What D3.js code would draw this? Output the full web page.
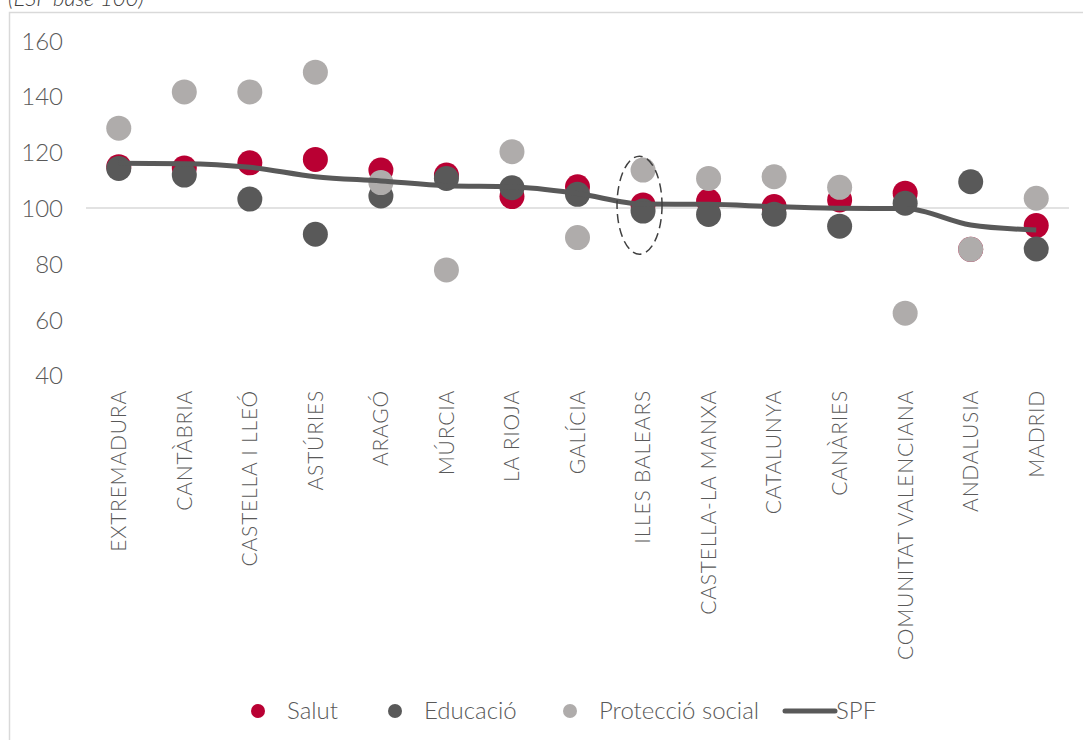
<!DOCTYPE html>
<html>
<head>
<meta charset="utf-8">
<script src="https://cdn.jsdelivr.net/npm/d3@7"></script>
<style>
  body { margin: 0; background: #fff; }
  svg text { font-family: "Lato", "Open Sans", sans-serif; }
</style>
</head>
<body>
<svg id="chart" width="1083" height="740"></svg>
<script>
// regions, ordered as in the picture
var regions = ["EXTREMADURA", "CANTÀBRIA", "CASTELLA I LLEÓ", "ASTÚRIES", "ARAGÓ", "MÚRCIA",
  "LA RIOJA", "GALÍCIA", "ILLES BALEARS", "CASTELLA-LA MANXA", "CATALUNYA", "CANÀRIES",
  "COMUNITAT VALENCIANA", "ANDALUSIA", "MADRID"];

var salut      = [114.8, 114.3, 116.2, 117.4, 113.6, 111.8, 104.1, 107.6, 101.1, 102.5, 100.5, 102.9, 105.3, 85.2, 93.7];
var educacio   = [114.2, 111.8, 103.2, 90.6, 104.3, 110.6, 107.3, 104.9, 98.9, 97.7, 97.8, 93.5, 101.7, 109.4, 85.3];
var proteccio  = [128.6, 141.6, 141.6, 148.7, 109.1, 77.8, 120.2, 89.4, 113.6, 110.6, 111.2, 107.4, 62.3, 85.2, 103.5];
var spf        = [116.0, 115.9, 114.6, 111.2, 109.7, 108.0, 107.6, 105.2, 101.4, 101.3, 100.5, 99.9, 99.8, 93.9, 92.1];

var yTicks = [40, 60, 80, 100, 120, 140, 160];

var COLORS = {
	salut: "#b90033",
	educacio: "#595959",
	proteccio: "#afacab",
	text: "#595959",
	grid: "#d9d9d9",
	border: "#d9d9d9"
};

var svg = d3.select("#chart");

// outer frame
svg.append("path")
	.attr("d", "M9.5 740 L9.5 12.5 L1083 12.5")
	.attr("fill", "none")
	.attr("stroke", COLORS.border)
	.attr("stroke-width", 1.5);

// unit caption, cut by the top edge as in the source
svg.append("text")
	.attr("x", 8)
	.attr("y", 6)
	.attr("font-size", 22)
	.attr("font-style", "italic")
	.attr("font-weight", 300)
	.attr("fill", "#404040")
	.text("(ESP base 100)");

var x = d3.scaleBand()
	.domain(regions)
	.range([86, 1069]);

var y = d3.scaleLinear()
	.domain([40, 160])
	.range([375.4, 40.6]);

var cx = function(i) { return x(regions[i]) + x.bandwidth() / 2; };

// y axis labels (no line, no ticks)
var yAxis = d3.axisLeft(y).tickValues(yTicks).tickSize(0).tickPadding(0);
var gy = svg.append("g")
	.attr("transform", "translate(63,0)")
	.call(yAxis);
gy.select(".domain").remove();
gy.selectAll("text")
	.attr("font-family", "Lato, sans-serif")
	.attr("font-size", 24)
	.attr("font-weight", 300)
	.attr("fill", COLORS.text)
	.attr("dy", "0.35em");

// base line at 100
svg.append("line")
	.attr("x1", x.range()[0]).attr("x2", x.range()[1])
	.attr("y1", y(100)).attr("y2", y(100))
	.attr("stroke", COLORS.grid)
	.attr("stroke-width", 1.5);

// x axis labels, rotated
var xAxis = d3.axisBottom(x).tickSize(0).tickPadding(0);
var gx = svg.append("g")
	.attr("transform", "translate(0,390)")
	.call(xAxis);
gx.select(".domain").remove();
gx.selectAll("text")
	.attr("font-family", "Lato, sans-serif")
	.attr("font-size", 21)
	.attr("font-weight", 300)
	.attr("letter-spacing", 0.8)
	.attr("fill", COLORS.text)
	.attr("transform", "rotate(-90)")
	.attr("x", 0)
	.attr("y", 0)
	.attr("dy", "0.35em")
	.style("text-anchor", "end");

// SPF line
var line = d3.line()
	.x(function(d, i) { return cx(i); })
	.y(function(d) { return y(d); })
	.curve(d3.curveMonotoneX);

var R = 12.5;

function drawDots(values, color) {
	svg.append("g").selectAll("circle")
		.data(values)
		.enter().append("circle")
		.attr("cx", function(d, i) { return cx(i); })
		.attr("cy", function(d) { return y(d); })
		.attr("r", R)
		.attr("fill", color);
}

drawDots(salut, COLORS.salut);
drawDots(educacio, COLORS.educacio);
drawDots(proteccio, COLORS.proteccio);

svg.append("path")
	.datum(spf)
	.attr("d", line)
	.attr("fill", "none")
	.attr("stroke", COLORS.educacio)
	.attr("stroke-width", 5);

// dashed ellipse round Illes Balears
var ib = regions.indexOf("ILLES BALEARS");
svg.append("ellipse")
	.attr("cx", cx(ib) - 3.5)
	.attr("cy", y(101))
	.attr("rx", 22.5)
	.attr("ry", 49)
	.attr("fill", "none")
	.attr("stroke", "#404040")
	.attr("stroke-width", 1.5)
	.attr("stroke-dasharray", "9,5");

// legend
var legendItems = [
	{ name: "Salut", color: COLORS.salut, type: "dot", x: 258 },
	{ name: "Educació", color: COLORS.educacio, type: "dot", x: 395 },
	{ name: "Protecció social", color: COLORS.proteccio, type: "dot", x: 570 },
	{ name: "SPF", color: COLORS.educacio, type: "line", x: 785 }
];
var ly = 711;
var lg = svg.append("g");
legendItems.forEach(function(it) {
	if(it.type === "dot") {
		lg.append("circle")
			.attr("cx", it.x).attr("cy", ly).attr("r", 7)
			.attr("fill", it.color);
		lg.append("text")
			.attr("x", it.x + 29).attr("y", ly)
			.attr("dy", "0.35em")
			.attr("font-size", 24).attr("font-weight", 300)
			.attr("fill", COLORS.text)
			.text(it.name);
	} else {
		lg.append("line")
			.attr("x1", it.x).attr("x2", it.x + 50)
			.attr("y1", ly).attr("y2", ly)
			.attr("stroke", it.color).attr("stroke-width", 5)
			.attr("stroke-linecap", "round");
		lg.append("text")
			.attr("x", it.x + 51).attr("y", ly)
			.attr("dy", "0.35em")
			.attr("font-size", 24).attr("font-weight", 300)
			.attr("fill", COLORS.text)
			.text(it.name);
	}
});
</script>
</body>
</html>
